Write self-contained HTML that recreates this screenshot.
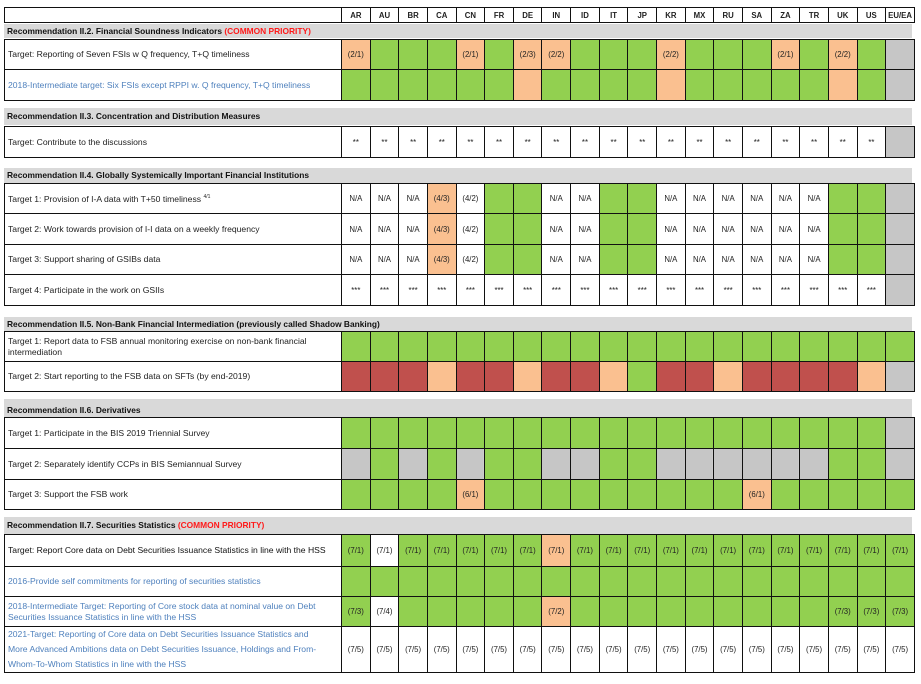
<!DOCTYPE html>
<html><head><meta charset="utf-8"><style>
body{margin:0;width:921px;height:684px;background:#fff;position:relative;overflow:hidden;font-family:"Liberation Sans",sans-serif;}
table{position:absolute;left:4px;border-collapse:collapse;table-layout:fixed;width:911px;}
td{border:1.5px solid #111;padding:0;font-size:7.8px;text-align:center;color:#222;overflow:hidden;white-space:nowrap;}
td.l{text-align:left;padding-left:3px;font-size:8.6px;color:#222;white-space:normal;line-height:11px;}
td.b{color:#4f81bd;}
.g{background:#92d050;}.o{background:#fac090;}.r{background:#c0504d;}
.x{background:#bfbfbf repeating-linear-gradient(90deg,rgba(255,255,255,.2) 0 1px,transparent 1px 2px);}
.band{position:absolute;left:4px;width:908px;background:#d9d9d9;font-size:8.4px;font-weight:bold;color:#111;padding-left:3px;box-sizing:border-box;}
.band span{color:#ff1a1a;}
col.lc{width:337px;}
</style></head><body>

<table style="top:7px;height:15px"><colgroup><col class="lc"><col span="20"></colgroup>
<tr style="height:15px;font-weight:bold"><td></td><td><b>AR</b></td><td><b>AU</b></td><td><b>BR</b></td><td><b>CA</b></td><td><b>CN</b></td><td><b>FR</b></td><td><b>DE</b></td><td><b>IN</b></td><td><b>ID</b></td><td><b>IT</b></td><td><b>JP</b></td><td><b>KR</b></td><td><b>MX</b></td><td><b>RU</b></td><td><b>SA</b></td><td><b>ZA</b></td><td><b>TR</b></td><td><b>UK</b></td><td><b>US</b></td><td><b>EU/EA</b></td></tr>
</table>

<div class="band" style="top:24px;height:14px;line-height:14px">Recommendation II.2. Financial Soundness Indicators <span>(COMMON PRIORITY)</span></div>
<table style="top:39px"><colgroup><col class="lc"><col span="20"></colgroup>
<tr style="height:30px"><td class="l">Target: Reporting of Seven FSIs w Q frequency, T+Q timeliness</td><td class="o">(2/1)</td><td class="g"></td><td class="g"></td><td class="g"></td><td class="o">(2/1)</td><td class="g"></td><td class="o">(2/3)</td><td class="o">(2/2)</td><td class="g"></td><td class="g"></td><td class="g"></td><td class="o">(2/2)</td><td class="g"></td><td class="g"></td><td class="g"></td><td class="o">(2/1)</td><td class="g"></td><td class="o">(2/2)</td><td class="g"></td><td class="x"></td></tr>
<tr style="height:31px"><td class="l b">2018-Intermediate target: Six FSIs except RPPI w. Q frequency, T+Q timeliness</td><td class="g"></td><td class="g"></td><td class="g"></td><td class="g"></td><td class="g"></td><td class="g"></td><td class="o"></td><td class="g"></td><td class="g"></td><td class="g"></td><td class="g"></td><td class="o"></td><td class="g"></td><td class="g"></td><td class="g"></td><td class="g"></td><td class="g"></td><td class="o"></td><td class="g"></td><td class="x"></td></tr>
</table>

<div class="band" style="top:108px;height:17px;line-height:17px">Recommendation II.3. Concentration and Distribution Measures</div>
<table style="top:126px"><colgroup><col class="lc"><col span="20"></colgroup>
<tr style="height:31px"><td class="l">Target: Contribute to the discussions</td><td>**</td><td>**</td><td>**</td><td>**</td><td>**</td><td>**</td><td>**</td><td>**</td><td>**</td><td>**</td><td>**</td><td>**</td><td>**</td><td>**</td><td>**</td><td>**</td><td>**</td><td>**</td><td>**</td><td class="x"></td></tr>
</table>

<div class="band" style="top:168px;height:15px;line-height:15px">Recommendation II.4. Globally Systemically Important Financial Institutions</div>
<table style="top:183px"><colgroup><col class="lc"><col span="20"></colgroup>
<tr style="height:30px"><td class="l">Target 1: Provision of I-A data with T+50 timeliness <sup style="font-size:5px">4/1</sup></td><td>N/A</td><td>N/A</td><td>N/A</td><td class="o">(4/3)</td><td>(4/2)</td><td class="g"></td><td class="g"></td><td>N/A</td><td>N/A</td><td class="g"></td><td class="g"></td><td>N/A</td><td>N/A</td><td>N/A</td><td>N/A</td><td>N/A</td><td>N/A</td><td class="g"></td><td class="g"></td><td class="x"></td></tr>
<tr style="height:31px"><td class="l">Target 2: Work towards provision of I-I data on a weekly frequency</td><td>N/A</td><td>N/A</td><td>N/A</td><td class="o">(4/3)</td><td>(4/2)</td><td class="g"></td><td class="g"></td><td>N/A</td><td>N/A</td><td class="g"></td><td class="g"></td><td>N/A</td><td>N/A</td><td>N/A</td><td>N/A</td><td>N/A</td><td>N/A</td><td class="g"></td><td class="g"></td><td class="x"></td></tr>
<tr style="height:30px"><td class="l">Target 3: Support sharing of GSIBs data</td><td>N/A</td><td>N/A</td><td>N/A</td><td class="o">(4/3)</td><td>(4/2)</td><td class="g"></td><td class="g"></td><td>N/A</td><td>N/A</td><td class="g"></td><td class="g"></td><td>N/A</td><td>N/A</td><td>N/A</td><td>N/A</td><td>N/A</td><td>N/A</td><td class="g"></td><td class="g"></td><td class="x"></td></tr>
<tr style="height:31px"><td class="l">Target 4: Participate in the work on GSIIs</td><td>***</td><td>***</td><td>***</td><td>***</td><td>***</td><td>***</td><td>***</td><td>***</td><td>***</td><td>***</td><td>***</td><td>***</td><td>***</td><td>***</td><td>***</td><td>***</td><td>***</td><td>***</td><td>***</td><td class="x"></td></tr>
</table>

<div class="band" style="top:317px;height:14px;line-height:14px">Recommendation II.5. Non-Bank Financial Intermediation (previously called Shadow Banking)</div>
<table style="top:331px"><colgroup><col class="lc"><col span="20"></colgroup>
<tr style="height:30px"><td class="l">Target 1: Report data to FSB annual monitoring exercise on non-bank financial intermediation</td><td class="g"></td><td class="g"></td><td class="g"></td><td class="g"></td><td class="g"></td><td class="g"></td><td class="g"></td><td class="g"></td><td class="g"></td><td class="g"></td><td class="g"></td><td class="g"></td><td class="g"></td><td class="g"></td><td class="g"></td><td class="g"></td><td class="g"></td><td class="g"></td><td class="g"></td><td class="g"></td></tr>
<tr style="height:30px"><td class="l">Target 2: Start reporting to the FSB data on SFTs (by end-2019)</td><td class="r"></td><td class="r"></td><td class="r"></td><td class="o"></td><td class="r"></td><td class="r"></td><td class="o"></td><td class="r"></td><td class="r"></td><td class="o"></td><td class="g"></td><td class="r"></td><td class="r"></td><td class="o"></td><td class="r"></td><td class="r"></td><td class="r"></td><td class="r"></td><td class="o"></td><td class="x"></td></tr>
</table>

<div class="band" style="top:399px;height:18px;line-height:22px">Recommendation II.6. Derivatives</div>
<table style="top:417px"><colgroup><col class="lc"><col span="20"></colgroup>
<tr style="height:31px"><td class="l">Target 1: Participate in the BIS 2019 Triennial Survey</td><td class="g"></td><td class="g"></td><td class="g"></td><td class="g"></td><td class="g"></td><td class="g"></td><td class="g"></td><td class="g"></td><td class="g"></td><td class="g"></td><td class="g"></td><td class="g"></td><td class="g"></td><td class="g"></td><td class="g"></td><td class="g"></td><td class="g"></td><td class="g"></td><td class="g"></td><td class="x"></td></tr>
<tr style="height:31px"><td class="l">Target 2: Separately identify CCPs in BIS Semiannual Survey</td><td class="x"></td><td class="g"></td><td class="x"></td><td class="g"></td><td class="x"></td><td class="g"></td><td class="g"></td><td class="x"></td><td class="x"></td><td class="g"></td><td class="g"></td><td class="x"></td><td class="x"></td><td class="x"></td><td class="x"></td><td class="x"></td><td class="x"></td><td class="g"></td><td class="g"></td><td class="x"></td></tr>
<tr style="height:30px"><td class="l">Target 3: Support the FSB work</td><td class="g"></td><td class="g"></td><td class="g"></td><td class="g"></td><td class="o">(6/1)</td><td class="g"></td><td class="g"></td><td class="g"></td><td class="g"></td><td class="g"></td><td class="g"></td><td class="g"></td><td class="g"></td><td class="g"></td><td class="o">(6/1)</td><td class="g"></td><td class="g"></td><td class="g"></td><td class="g"></td><td class="g"></td></tr>
</table>

<div class="band" style="top:517px;height:17px;line-height:17px">Recommendation II.7. Securities Statistics <span>(COMMON PRIORITY)</span></div>
<table style="top:534px"><colgroup><col class="lc"><col span="20"></colgroup>
<tr style="height:32px"><td class="l" style="color:#111">Target: Report Core data on Debt Securities Issuance Statistics in line with the HSS</td><td class="g">(7/1)</td><td>(7/1)</td><td class="g">(7/1)</td><td class="g">(7/1)</td><td class="g">(7/1)</td><td class="g">(7/1)</td><td class="g">(7/1)</td><td class="o">(7/1)</td><td class="g">(7/1)</td><td class="g">(7/1)</td><td class="g">(7/1)</td><td class="g">(7/1)</td><td class="g">(7/1)</td><td class="g">(7/1)</td><td class="g">(7/1)</td><td class="g">(7/1)</td><td class="g">(7/1)</td><td class="g">(7/1)</td><td class="g">(7/1)</td><td class="g">(7/1)</td></tr>
<tr style="height:30px"><td class="l b">2016-Provide self commitments for reporting of securities statistics</td><td class="g"></td><td class="g"></td><td class="g"></td><td class="g"></td><td class="g"></td><td class="g"></td><td class="g"></td><td class="g"></td><td class="g"></td><td class="g"></td><td class="g"></td><td class="g"></td><td class="g"></td><td class="g"></td><td class="g"></td><td class="g"></td><td class="g"></td><td class="g"></td><td class="g"></td><td class="g"></td></tr>
<tr style="height:30px"><td class="l b">2018-Intermediate Target: Reporting of Core stock data at nominal value on Debt Securities Issuance Statistics in line with the HSS</td><td class="g">(7/3)</td><td>(7/4)</td><td class="g"></td><td class="g"></td><td class="g"></td><td class="g"></td><td class="g"></td><td class="o">(7/2)</td><td class="g"></td><td class="g"></td><td class="g"></td><td class="g"></td><td class="g"></td><td class="g"></td><td class="g"></td><td class="g"></td><td class="g"></td><td class="g">(7/3)</td><td class="g">(7/3)</td><td class="g">(7/3)</td></tr>
<tr style="height:46px"><td class="l b" style="line-height:15px">2021-Target: Reporting of Core data on Debt Securities Issuance Statistics and<br>More Advanced Ambitions data on Debt Securities Issuance, Holdings and From-<br>Whom-To-Whom Statistics in line with the HSS</td><td>(7/5)</td><td>(7/5)</td><td>(7/5)</td><td>(7/5)</td><td>(7/5)</td><td>(7/5)</td><td>(7/5)</td><td>(7/5)</td><td>(7/5)</td><td>(7/5)</td><td>(7/5)</td><td>(7/5)</td><td>(7/5)</td><td>(7/5)</td><td>(7/5)</td><td>(7/5)</td><td>(7/5)</td><td>(7/5)</td><td>(7/5)</td><td>(7/5)</td></tr>
</table>
</body></html>
